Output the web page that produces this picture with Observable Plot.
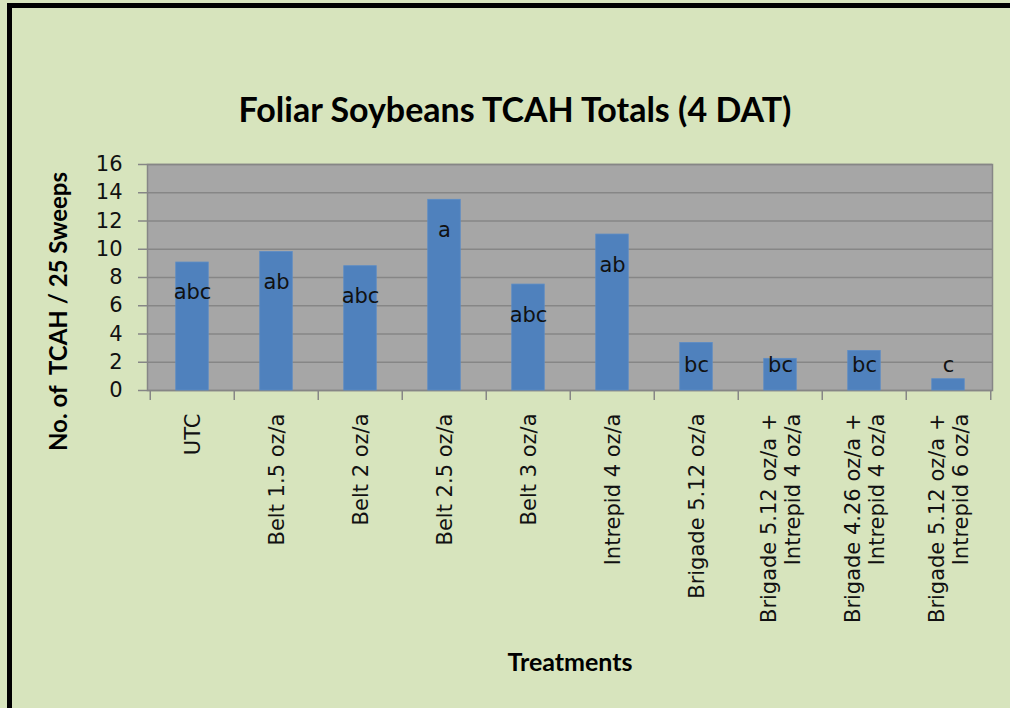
<!DOCTYPE html>
<html><head><meta charset="utf-8">
<script src="https://cdn.jsdelivr.net/npm/d3@7"></script>
<script src="https://cdn.jsdelivr.net/npm/@observablehq/plot@0.6"></script>
<style>
html,body{margin:0;padding:0;background:#D7E4BD;}
#wrap{position:relative;width:1010px;height:708px;background:#D7E4BD;overflow:hidden;}
#border{position:absolute;left:7px;top:3px;right:0;bottom:0;border-left:5px solid #000;border-top:5px solid #000;}
#title{position:absolute;left:20px;right:0;top:89px;line-height:40px;text-align:center;font-family:Lato,sans-serif;font-weight:bold;font-size:34px;color:#000;}
#chart{position:absolute;left:0;top:140px;}
</style></head>
<body><div id="wrap"><div id="border"></div><div id="title">Foliar Soybeans TCAH Totals (4 DAT)</div><div id="chart"></div></div>
<script>
const treatments = [
  "UTC",
  "Belt 1.5 oz/a",
  "Belt 2 oz/a",
  "Belt 2.5 oz/a",
  "Belt 3 oz/a",
  "Intrepid 4 oz/a",
  "Brigade 5.12 oz/a",
  "Brigade 5.12 oz/a +\nIntrepid 4 oz/a",
  "Brigade 4.26 oz/a +\nIntrepid 4 oz/a",
  "Brigade 5.12 oz/a +\nIntrepid 6 oz/a"
];
const tcah = [9.06, 9.8, 8.8, 13.5, 7.5, 11.04, 3.36, 2.24, 2.8, 0.8];
const groups = ["abc", "ab", "abc", "a", "abc", "ab", "bc", "bc", "bc", "c"];
const yTicks = [0, 2, 4, 6, 8, 10, 12, 14, 16];
const yTitle = "No. of  TCAH / 25 Sweeps";
const xTitle = "Treatments";

const data = treatments.map((t, i) => ({treatment: t, value: tcah[i], group: groups[i]}));

const W = 1010, H = 568;
const mL = 147, mR = 18, mT = 24, mB = 318;
const half = (W - mL - mR) / treatments.length / 2;

const plot = Plot.plot({
  width: W, height: H,
  marginLeft: mL, marginRight: mR, marginTop: mT, marginBottom: mB,
  style: {background: "transparent", fontFamily: "'DejaVu Sans', sans-serif", fontSize: "21px", color: "#000", overflow: "visible"},
  x: {domain: treatments, padding: 0, axis: null},
  y: {domain: [0, 16], axis: null},
  marks: [
    Plot.frame({fill: "#A6A6A6", stroke: "#868686", strokeWidth: 1.5}),
    Plot.ruleY(yTicks, {stroke: "#868686", strokeWidth: 1.5, insetLeft: -9}),
    Plot.axisY({ticks: yTicks, tickSize: 0, tickPadding: 25, fontSize: 21, fill: "#111", label: null}),
    Plot.ruleX(treatments, {x: d => d, y1: 0, y2: 0, insetBottom: -10, dx: -half, stroke: "#868686", strokeWidth: 1.5}),
    Plot.ruleX([treatments[treatments.length - 1]], {x: d => d, y1: 0, y2: 0, insetBottom: -10, dx: half, stroke: "#868686", strokeWidth: 1.5}),
    Plot.barY(data, {x: "treatment", y: "value", fill: "#4F81BD", stroke: "#5B8CC6", strokeWidth: 0.8, insetLeft: 25.75, insetRight: 25.75}),
    Plot.text(data, {x: "treatment", y: d => Math.max(d.value - 2.14, 1.77), text: "group", fontSize: 21, fill: "#111", lineAnchor: "middle"}),
    Plot.text(treatments, {x: d => d, text: d => d, frameAnchor: "bottom", dy: 23, rotate: -90, textAnchor: "end", lineAnchor: "middle", lineHeight: 1.15, fontSize: 21, fill: "#111", ariaLabel: "category-labels"}),
    Plot.text([yTitle], {frameAnchor: "left", dx: -88, dy: 34, rotate: -90, textAnchor: "middle", lineAnchor: "middle", fontFamily: "Lato, sans-serif", fontWeight: "bold", fontSize: 24, fill: "#000"}),
    Plot.text([xTitle], {frameAnchor: "bottom", dy: 272, textAnchor: "middle", lineAnchor: "middle", fontFamily: "Lato, sans-serif", fontWeight: "bold", fontSize: 25, fill: "#000"})
  ]
});
document.getElementById("chart").appendChild(plot);

// center the lines of multi-line category labels on each other
plot.querySelectorAll('g[aria-label="category-labels"] text').forEach(t => {
  const spans = Array.from(t.querySelectorAll("tspan"));
  if (spans.length < 2) return;
  const lens = spans.map(s => s.getComputedTextLength());
  const max = Math.max(...lens);
  spans.forEach((s, i) => s.setAttribute("x", -(max - lens[i]) / 2));
});
</script>
</body></html>
